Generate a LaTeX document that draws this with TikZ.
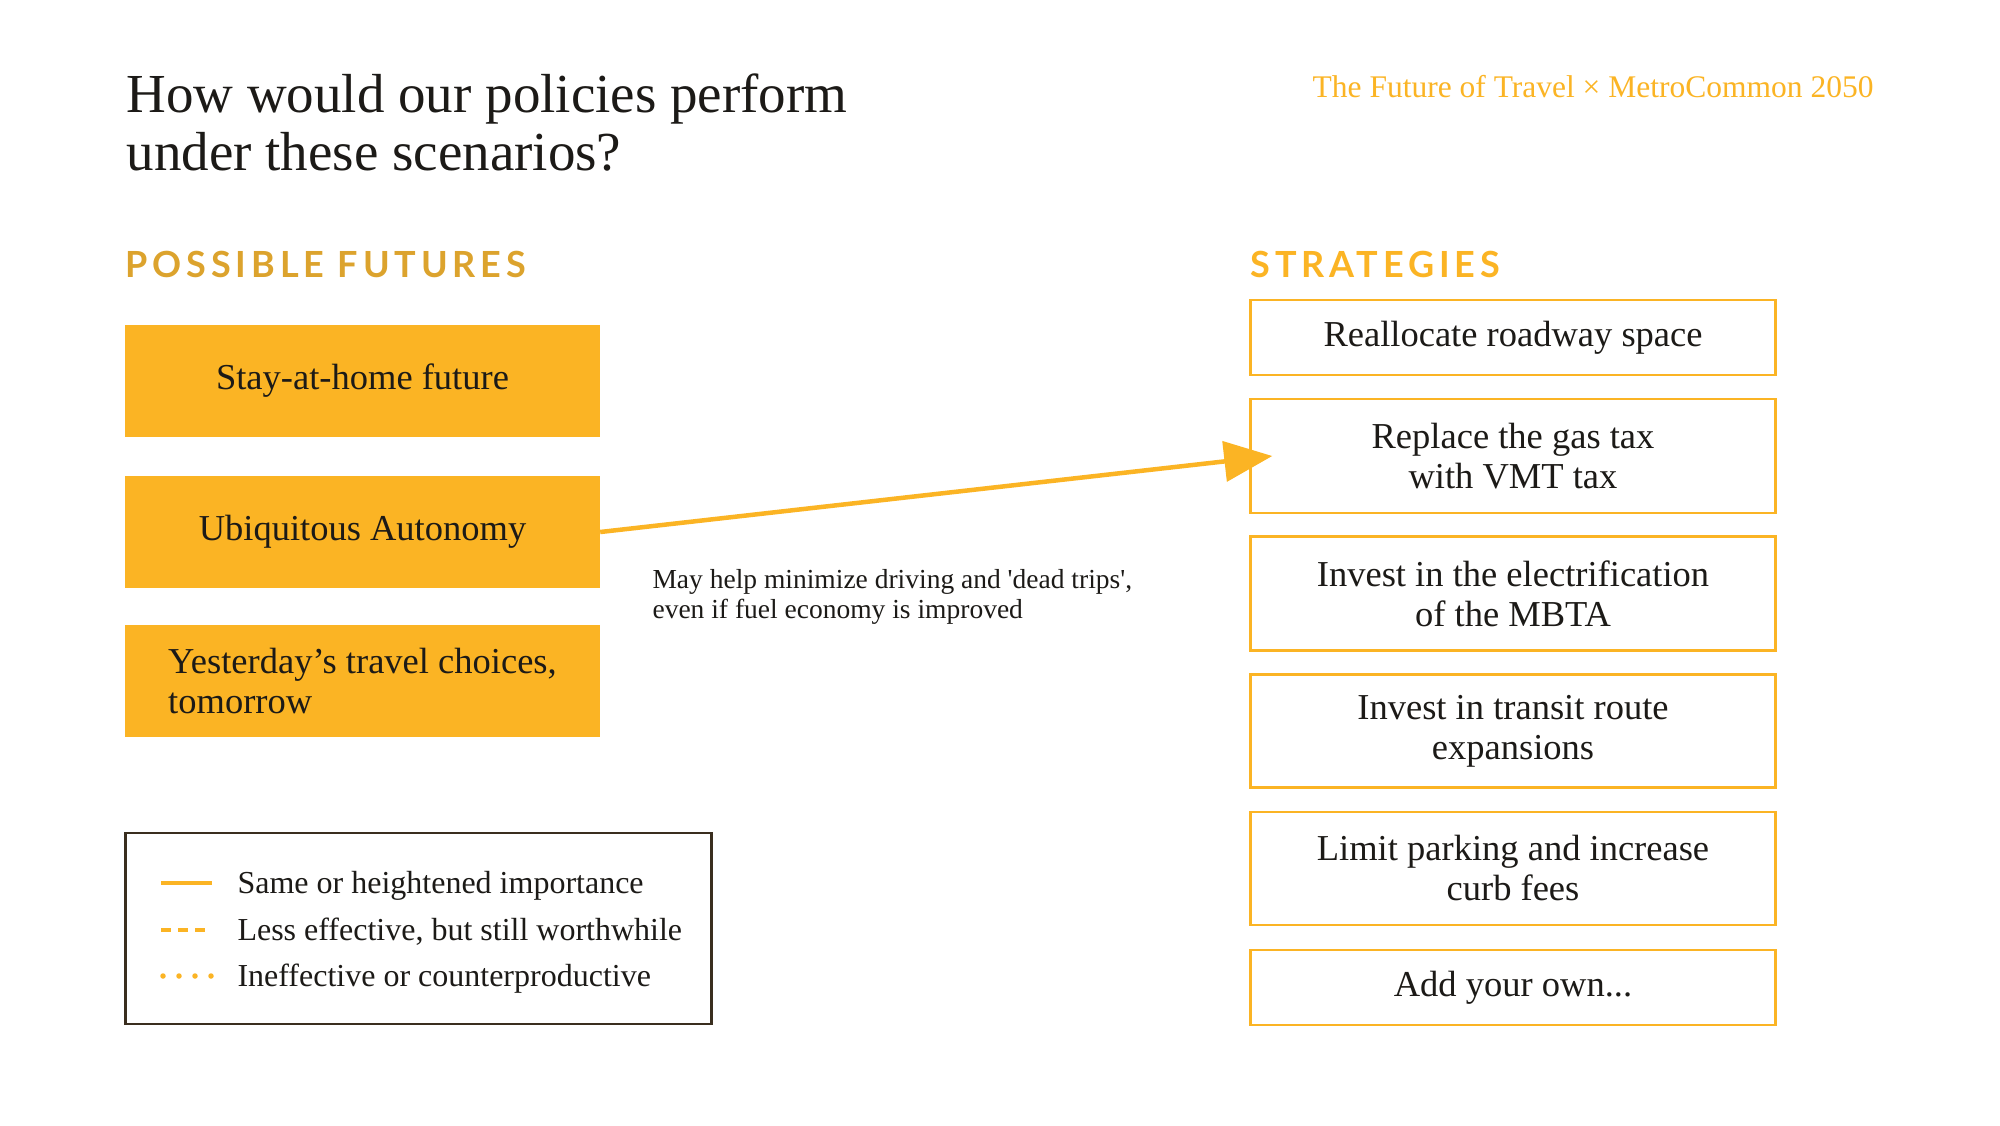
\documentclass[tikz,border=0pt]{standalone}
\usepackage{fontspec}
\setmainfont{Liberation Serif}
\newfontfamily\capsfont{Lato}[LetterSpace=13.5]
\usetikzlibrary{arrows.meta,calc}

\definecolor{amber}{HTML}{FBB424}
\definecolor{gold}{HTML}{DCA32D}
\definecolor{ink}{HTML}{1C1A17}
\definecolor{frame}{HTML}{3A2E1F}

\tikzset{
  futurebox/.style={fill=amber, draw=none, minimum width=475pt, minimum height=112pt,
    inner sep=0pt, text=ink, font=\fontsize{36.5}{40}\selectfont},
  strategybox/.style={draw=amber, line width=2.5pt, minimum width=525pt,
    inner sep=0pt, text=ink, align=center, font=\fontsize{36.5}{40}\selectfont},
  heading/.style={anchor=base west, font=\capsfont\bfseries\fontsize{36}{40}\selectfont},
  legendline/.style={amber, line width=4pt},
  legendtext/.style={anchor=base west, text=ink, font=\fontsize{32}{36}\selectfont},
}

\begin{document}
\begin{tikzpicture}[x=1pt, y=-1pt]
\useasboundingbox[fill=white] (0,0) rectangle (2000,1125);

% title and header (base anchor sits on the last line)
\node[anchor=base west, text=ink, align=left, font=\fontsize{55}{58}\selectfont]
  (title) at (123,170) {How would our policies perform\\under these scenarios?};
\node[anchor=base east, text=amber, font=\fontsize{31.5}{34}\selectfont]
  (brand) at (1877,97) {The Future of Travel × MetroCommon 2050};

% column headings
\node[heading, text=gold] (futh) at (122,277) {POSSIBLE FUTURES};
\node[heading, text=amber] (strh) at (1247,277) {STRATEGIES};

% possible futures
\node[futurebox] (f1) at (362.5,381) {Stay-at-home future};
\node[futurebox] (f2) at (362.5,532) {Ubiquitous Autonomy};
\node[futurebox, align=left] (f3) at (362.5,681) {Yesterday’s travel choices,\\tomorrow};

% strategies
\node[strategybox, minimum height=75pt]  (s1) at (1513,337.5) {Reallocate roadway space};
\node[strategybox, minimum height=114pt] (s2) at (1513,456) {Replace the gas tax\\with VMT tax};
\node[strategybox, minimum height=114pt] (s3) at (1513,593.5) {Invest in the electrification\\of the MBTA};
\node[strategybox, minimum height=113pt] (s4) at (1513,731) {Invest in transit route\\expansions};
\node[strategybox, minimum height=113pt] (s5) at (1513,868.5) {Limit parking and increase\\curb fees};
\node[strategybox, minimum height=75pt]  (s6) at (1513,987.5) {Add your own...};

% connector with its note
\draw[amber, line width=4.5pt, -{Triangle[length=48pt,width=40pt]}]
  (f2.east) -- ($(s2.west)+(23,0)$);
\node[anchor=base west, text=ink, align=left, font=\fontsize{27.5}{29.5}\selectfont]
  (note) at (649,618) {May help minimize driving and \textquotesingle dead trips\textquotesingle,\\even if fuel economy is improved};

% legend
\node[draw=frame, line width=2.5pt, minimum width=586pt, minimum height=191pt,
  inner sep=0pt] (legend) at (418.5,928.5) {};
\coordinate (l1a) at (161,883); \coordinate (l1b) at (212,883);
\coordinate (l2a) at (161,930); \coordinate (l2b) at (212,930);
\coordinate (l3a) at (163,976); \coordinate (l3b) at (212,976);
\draw[legendline] (l1a) -- (l1b);
\draw[legendline, dash pattern=on 10pt off 7pt] (l2a) -- (l2b);
\draw[legendline, line width=5.5pt, line cap=round, dash pattern=on 0pt off 16pt] (l3a) -- (l3b);
\node[legendtext] (t1) at (234,893) {Same or heightened importance};
\node[legendtext] (t2) at (234,940) {Less effective, but still worthwhile};
\node[legendtext] (t3) at (234,986) {Ineffective or counterproductive};
\end{tikzpicture}
\end{document}
